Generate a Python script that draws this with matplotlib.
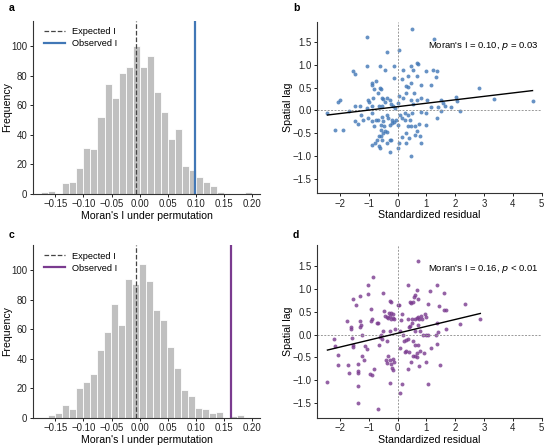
import numpy as np
import matplotlib
matplotlib.use("Agg")
import matplotlib.pyplot as plt

plt.rcParams['font.family'] = ['Liberation Sans', 'DejaVu Sans']

# ---- permutation histograms (bin start, width, counts) ----
bin_width = 0.0125
start_a = -0.175
counts_a = [1, 2, 0, 7, 8, 17, 31, 30, 52, 74, 65, 82, 86, 100, 86, 93, 69, 55,
            37, 44, 19, 16, 11, 8, 5, 1, 0, 0, 0, 1]
start_c = -0.163
counts_c = [2, 3, 9, 6, 20, 24, 30, 46, 58, 77, 63, 94, 91, 104, 93, 73, 66, 48,
            34, 19, 15, 7, 6, 3, 4, 0, 1, 2]
expected_I = -0.0067
observed_a = 0.099
observed_c = 0.163

# ---- Moran scatter, panel b ----
resid_b = [0.51, -1.07, 1.27, 0.05, -0.37, -1.55, -1.47, -1.07, -0.61, -0.44, -0.13, -0.12,
           0.20, 0.48, 0.54, 0.69, 0.70, 0.97, 1.24, 1.36, 1.33, 0.16, 0.37, 0.66,
           -0.87, -0.75, -0.90, -0.81, -0.61, -0.58, 0.37, 0.48, 0.29, 0.81, 1.17,
           2.81, 3.34, 4.68, -2.01, -2.07, -2.43, -2.16, -1.88, -1.70, -1.47, -1.30,
           -1.47, -1.36, -1.27, -1.19, -1.07, -1.04, -0.98, -0.90, -0.87, -0.84, -0.69,
           -0.55, -0.49, -0.63, -0.53, -0.44, -0.36, -0.26, -0.21, -0.15, -0.09, 0.02,
           0.05, 0.20, 0.31, 0.46, 0.58, 0.66, 0.54, 0.83, 1.01, 1.17, 1.40, 1.52, 1.58,
           1.63, 1.86, 2.01, 2.07, 2.15, 1.50, 1.37, 1.00, 0.83,
           -1.01, -0.90, -0.81, -0.67, -0.58, -0.55, -0.49, -0.46, -0.58, -0.76, -0.64,
           -0.58, -0.49, -0.44, -0.38, -0.55, -0.72, -0.78, -0.90, -0.64, -0.61, -0.38,
           -0.26, -0.23, -0.26, -0.26, -0.18, -0.18, -0.12, -0.07, -0.32, -0.38, 0.00,
           0.05, 0.02, 0.08, 0.14, 0.25, 0.35, 0.43, 0.37, 0.31, 0.46, 0.60, 0.66, 0.14,
           0.28, 0.39, 0.46, 0.60, 0.79, 0.80, 0.74, 0.51, 0.25, 1.00]
lag_b = [1.79, 1.62, 1.57, 1.33, 1.29, 0.86, 0.80, 0.98, 0.98, 0.88, 0.97, 0.71,
         0.89, 0.98, 0.89, 1.04, 1.02, 0.86, 0.89, 0.86, 0.73, 0.70, 0.75, 0.76,
         0.61, 0.64, 0.56, 0.47, 0.49, 0.47, 0.51, 0.60, 0.54, 0.55, 0.56,
         0.49, 0.25, 0.20, 0.23, 0.18, -0.06, -0.42, -0.42, -0.01, 0.10, 0.09,
         -0.24, -0.29, -0.10, -0.20, 0.05, 0.23, 0.18, -0.06, 0.10, 0.27, 0.38,
         0.27, 0.25, 0.09, 0.10, 0.18, 0.27, 0.23, 0.15, 0.10, 0.05, 0.16,
         0.31, 0.27, 0.38, 0.23, 0.38, 0.23, 0.15, 0.27, 0.22, 0.07, 0.07, 0.23, 0.16,
         0.09, 0.07, 0.29, 0.20, -0.01, -0.02, -0.17, -0.06, -0.04,
         -0.17, -0.24, -0.34, -0.20, -0.31, -0.15, -0.24, -0.34, -0.42, -0.22, -0.57,
         -0.56, -0.50, -0.46, -0.48, -0.64, -0.64, -0.72, -0.75, -0.79, -0.83, -0.72,
         -0.64, -0.64, -0.92, -0.31, -0.22, -0.28, -0.26, -0.20, -0.17, -0.10, -0.83,
         -0.72, -0.31, -0.10, -0.17, -0.20, -0.10, -0.22, -0.34, -0.50, -0.35, -0.35, -0.46, -0.59,
         -0.72, -0.61, -1.01, -0.53, -0.57, -0.72, -0.29, -0.06, -0.06, -0.31]

# ---- Moran scatter, panel d ----
resid_d = [0.71, -0.86, -1.01, -1.04, -1.30, -1.55, -1.43, -0.49, -0.26, -0.21, 0.06, 0.02,
           0.37, 0.69, 0.60, 0.58, 0.43, 0.48, 0.54, 0.71, 1.13, 1.38, 1.61, 1.06, 1.44,
           1.61, 1.67, 2.35, 2.87, 2.15, 1.69, 1.40, 1.38, 1.35, 1.04, 1.00, 1.17, 1.37,
           1.48, 1.00, 1.04, 0.14, 0.07, -0.26, -0.67, -1.36, -1.36, -2.43, -2.22, -2.16,
           -2.05, -2.05, -1.73, -1.68, -1.74, -1.61, -1.61, -1.59, -1.55, -1.53, -1.30,
           -1.27, -1.24, -1.30, -1.22, -1.17, -1.13, -1.07, -1.38, -1.38, -1.36, -0.92,
           -0.92, -0.90, -0.72, -0.67, -0.58, -0.61, -0.64, -0.53, -0.81, -0.95, -0.90,
           -0.46, -0.44, -0.38, -0.32, -0.26, -0.21, -0.15, -0.29, -0.21, -0.15, -0.12,
           -0.49, -0.26, -0.09, -0.35, -0.32, -0.26, -0.23, -0.35, -0.40, -0.18, -0.15,
           -0.15, -0.12, 0.12, 0.17, 0.08, 0.20, 0.35, 0.39, 0.43, 0.51, 0.51, 0.60, 0.66,
           0.71, 0.74, 0.71, 0.81, 0.86, 0.94, 1.00, 0.60, 0.77, 0.89, 0.23, 0.31, 0.37,
           0.54, 0.60, 0.71, 0.77, 0.66, 0.25, 0.31, 0.40, 0.48, 0.54, 0.60, 0.66, 0.92,
           0.74, 0.35, 0.08]
lag_d = [1.61, 1.26, 1.08, 0.88, 0.83, 0.78, 0.64, 0.90, 0.73, 0.72, 0.64, 0.64,
         1.08, 0.97, 0.86, 0.82, 0.71, 0.69, 0.71, 0.78, 0.95, 1.08, 0.91, 0.66, 0.62,
         0.53, 0.53, 0.66, 0.34, 0.22, 0.13, 0.06, 0.26, 0.00, 0.00, -0.02, -0.29, -0.20,
         -0.66, -0.61, -1.08, -1.08, -1.28, -1.05, -1.63, -1.50, -1.13, -1.04, -0.10, -0.26,
         -0.44, -0.67, -0.67, -0.83, 0.29, 0.17, 0.12, -0.07, -0.24, -0.28, 0.29,
         0.20, 0.00, 0.17, -0.48, -0.55, -0.26, -0.31, -0.64, -0.83, -0.80, 0.55,
         0.29, 0.33, 0.26, 0.26, -0.02, -0.05, -0.22, -0.10, -0.75, -0.86, -0.89,
         0.51, 0.40, 0.39, 0.37, 0.40, 0.34, 0.37, 0.48, 0.48, 0.45, 0.34,
         0.07, 0.07, 0.11, -0.15, -0.48, -0.55, -0.64, -0.62, -0.55, -0.73, -0.77,
         -0.53, -0.59, 0.31, 0.45, 0.07, -0.01, 0.33, 0.17, 0.18, 0.34, 0.26, 0.34, 0.37,
         0.39, 0.33, 0.20, 0.40, 0.33, 0.44, 0.39, 0.07, 0.07, 0.00, -0.15, -0.11, -0.10,
         -0.15, -0.22, -0.24, -0.37, -0.40, -0.39, -0.37, -0.39, -0.59, -0.46, -0.48, -0.50, -0.40,
         -0.69, -0.75, -0.29]

blue = '#4177b6'
purple = '#7a3b8f'
grey_bar = '#c0c0c0'


def style_axes(ax):
    for s in ['top', 'right']:
        ax.spines[s].set_visible(False)
    for s in ['left', 'bottom']:
        ax.spines[s].set_color('#333333')
        ax.spines[s].set_linewidth(0.8)
    ax.tick_params(labelsize=6.9, length=2.5, width=0.7, colors='#222222', pad=1.5)


def hist_panel(ax, start, counts, observed, color):
    counts = np.array(counts)
    lefts = start + bin_width * np.arange(len(counts))
    ax.bar(lefts, counts, width=bin_width, align='edge', color=grey_bar,
           edgecolor='white', linewidth=0.6)
    ax.axvline(expected_I, color='#444444', ls='--', lw=0.9, label='Expected I')
    ax.axvline(observed, color=color, lw=1.6, label='Observed I')
    ax.set_xlim(-0.19, 0.215)
    ax.set_ylim(0, 117)
    ax.set_xticks(np.arange(-0.15, 0.201, 0.05))
    ax.set_yticks(np.arange(0, 101, 20))
    ax.set_xlabel("Moran's I under permutation", fontsize=7.6, labelpad=1)
    ax.set_ylabel('Frequency', fontsize=7.6, labelpad=-0.5)
    ax.legend(loc='upper left', frameon=False, fontsize=6.7, handlelength=2.2,
              borderaxespad=0.3, labelspacing=0.3, bbox_to_anchor=(0.02, 1.0))
    style_axes(ax)


def scatter_panel(ax, x, y, color, label):
    x = np.array(x)
    y = np.array(y)
    ax.axvline(0, color='#999999', ls=(0, (2, 1.5)), lw=0.7)
    ax.axhline(0, color='#999999', ls=(0, (2, 1.5)), lw=0.7)
    ax.scatter(x, y, s=8, color=color, alpha=0.8, linewidths=0)
    slope, icpt = np.polyfit(x, y, 1)
    xx = np.array([x.min(), x.max()])
    ax.plot(xx, icpt + slope * xx, color='black', lw=1.0)
    ax.set_xlim(-2.78, 5.0)
    ax.set_ylim(-1.82, 1.95)
    ax.set_xticks(np.arange(-2, 6, 1))
    ax.set_yticks(np.arange(-1.5, 1.51, 0.5))
    ax.set_xlabel('Standardized residual', fontsize=7.6, labelpad=1)
    ax.set_ylabel('Spatial lag', fontsize=7.6, labelpad=-0.5)
    ax.text(0.983, 0.86, label, transform=ax.transAxes, ha='right', va='center',
            fontsize=6.8)
    style_axes(ax)


fig = plt.figure(figsize=(5.5, 4.45), dpi=100)
ax_a = fig.add_axes([0.060, 0.565, 0.413, 0.388])
ax_b = fig.add_axes([0.577, 0.566, 0.408, 0.385])
ax_c = fig.add_axes([0.060, 0.061, 0.413, 0.388])
ax_d = fig.add_axes([0.577, 0.061, 0.408, 0.388])

hist_panel(ax_a, start_a, counts_a, observed_a, blue)
hist_panel(ax_c, start_c, counts_c, observed_c, purple)
scatter_panel(ax_b, resid_b, lag_b, blue, "Moran's I = 0.10, $p$ = 0.03")
scatter_panel(ax_d, resid_d, lag_d, purple, "Moran's I = 0.16, $p$ < 0.01")

for lab, (px, py) in zip('abcd', [(9, 8), (293, 8), (9, 235), (293, 235)]):
    fig.text(px / 550, 1 - py / 445, lab, fontsize=7.6, fontweight='bold',
             ha='left', va='center')

fig.savefig('out.png', dpi=100)
